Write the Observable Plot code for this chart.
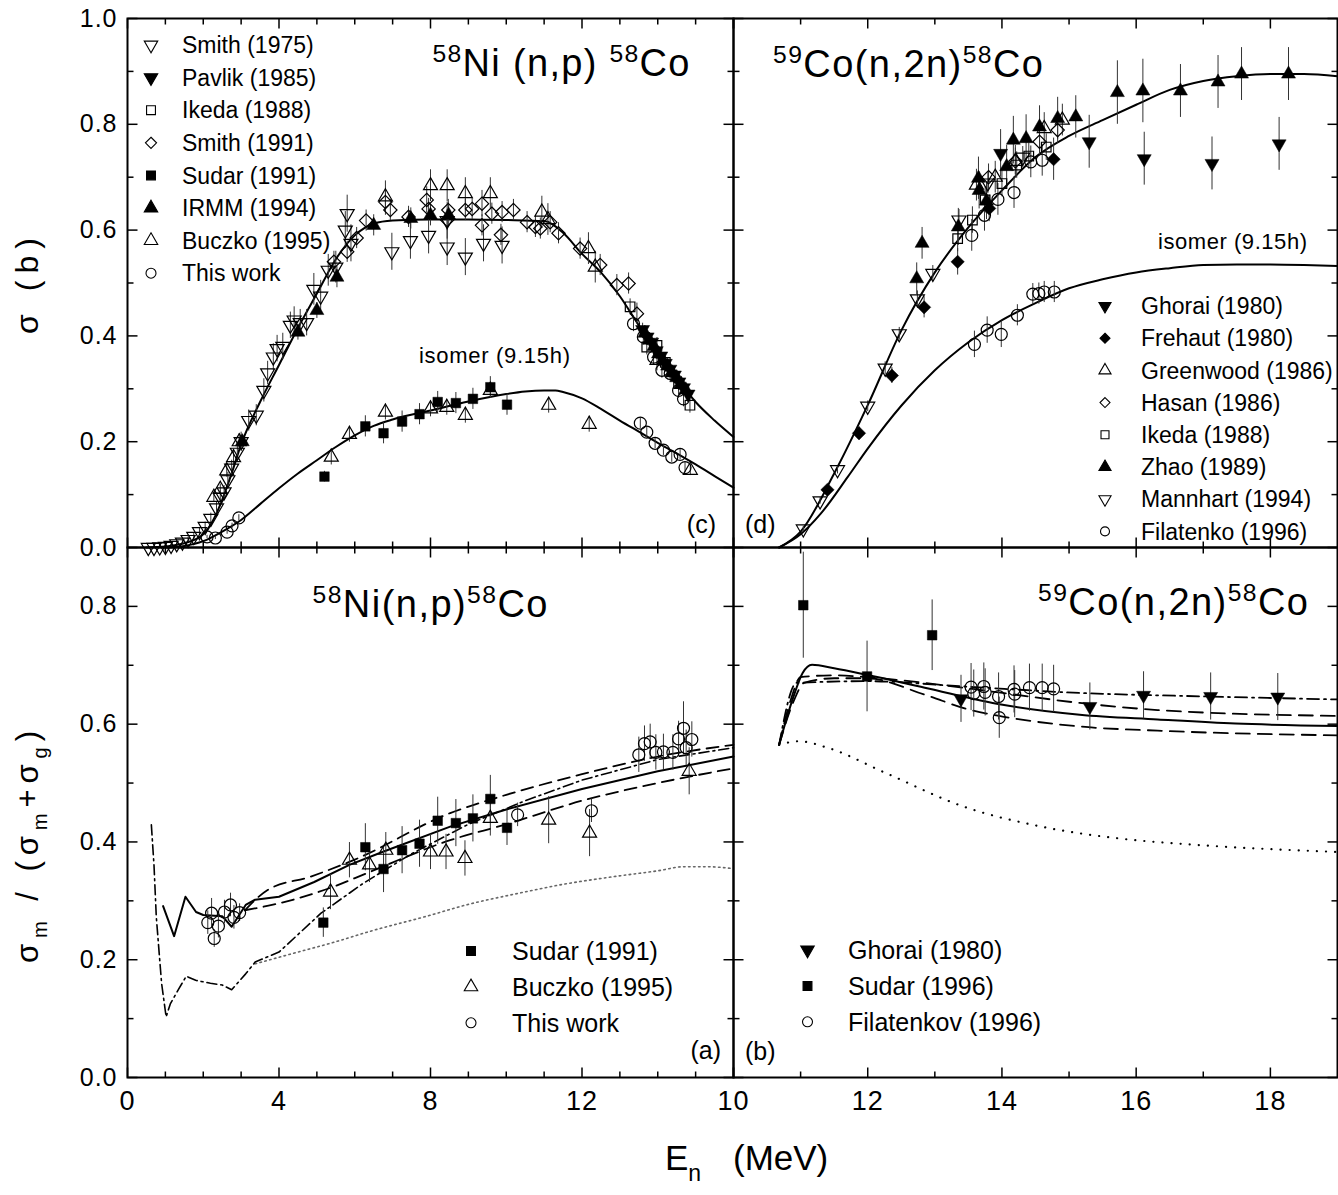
<!DOCTYPE html>
<html><head><meta charset="utf-8">
<script src="https://cdn.jsdelivr.net/npm/d3@7"></script>
<script src="https://cdn.jsdelivr.net/npm/@observablehq/plot@0.6"></script>
<style>
body{margin:0;background:#fff;}
#fig{position:relative;width:1338px;height:1195px;background:#fff;overflow:hidden;}
</style></head><body><div id="fig"></div>
<script>
// ================= DATA =================
// ---- Panel (c): 58Ni(n,p)58Co cross sections (E in MeV, sigma in b) ----
const c_totE = [0.5,1.0,1.5,2.0,2.25,2.5,2.75,3.0,3.5,4.0,4.5,5.0,5.5,6.0,6.5,7.0,8.0,9.0,10.0,11.0,11.5,12.0,12.5,13.0,13.5,14.0,14.5,15.0,15.5,16.0];
const c_totS = [0,0.002,0.008,0.025,0.05,0.09,0.14,0.195,0.275,0.345,0.415,0.48,0.545,0.59,0.612,0.618,0.62,0.62,0.619,0.617,0.595,0.555,0.52,0.475,0.42,0.37,0.32,0.275,0.24,0.209];
const c_isoE = [1.0,1.5,2.0,2.5,3.0,3.5,4.0,4.5,5.0,5.5,6.0,6.5,7.0,8.0,9.0,10.0,10.5,11.0,11.3,11.5,12.0,12.5,13.0,13.5,14.0,14.5,15.0,15.5,16.0];
const c_isoS = [0,0.003,0.012,0.03,0.052,0.082,0.112,0.14,0.165,0.19,0.212,0.23,0.242,0.259,0.276,0.29,0.295,0.297,0.297,0.294,0.282,0.262,0.24,0.219,0.198,0.178,0.157,0.135,0.113];

const c_smith75E = [0.55,0.7,0.85,1.0,1.15,1.3,1.45,1.6,1.75,1.9,2.05,2.2,2.35,2.45,2.55,2.65,2.75,2.9,3.0,3.2,3.4,3.6,3.7,3.85,3.95,4.1,4.3,4.4,4.56,4.73,4.92,5.1,5.3,5.5,5.75,5.8,5.9,6.98,7.47,7.95,8.44,8.44,8.92,9.4,9.89];
const c_smith75S = [0,0,0.001,0.002,0.004,0.007,0.010,0.015,0.021,0.030,0.040,0.055,0.075,0.095,0.105,0.128,0.150,0.180,0.200,0.240,0.250,0.297,0.330,0.360,0.376,0.380,0.420,0.430,0.425,0.425,0.488,0.475,0.524,0.530,0.600,0.631,0.575,0.559,0.580,0.590,0.568,0.618,0.549,0.575,0.571];
const c_smith75Err = [0.001,0.001,0.002,0.002,0.003,0.003,0.004,0.005,0.006,0.007,0.008,0.010,0.010,0.012,0.012,0.014,0.015,0.015,0.018,0.02,0.02,0.022,0.022,0.025,0.025,0.025,0.025,0.025,0.025,0.025,0.03,0.03,0.03,0.03,0.035,0.035,0.035,0.035,0.035,0.035,0.035,0.035,0.035,0.035,0.035];
const c_pavlikE = [13.6,13.72,13.84,13.96,14.08,14.2,14.32,14.44,14.56,14.68,14.8];
const c_pavlikS = [0.412,0.398,0.388,0.372,0.362,0.348,0.337,0.326,0.313,0.302,0.29];
const c_pavlikErr = [0.012,0.012,0.012,0.012,0.012,0.012,0.012,0.012,0.012,0.012,0.012];
const c_ikedaE = [13.27,13.71,13.98,14.2,14.55,14.85];
const c_ikedaS = [0.455,0.379,0.382,0.35,0.31,0.269];
const c_ikedaErr = [0.015,0.015,0.015,0.015,0.015,0.015];
const c_smith91E = [5.45,5.8,6.05,6.3,6.81,6.94,7.42,7.9,7.95,8.44,8.47,8.92,9.1,9.36,9.36,9.62,9.86,9.89,10.19,10.55,10.77,10.9,11.16,11.38,11.95,12.48,12.92,13.23,13.45];
const c_smith91S = [0.540,0.559,0.585,0.618,0.653,0.638,0.625,0.657,0.640,0.619,0.638,0.638,0.640,0.650,0.609,0.631,0.591,0.634,0.638,0.615,0.606,0.603,0.615,0.594,0.565,0.534,0.496,0.499,0.442];
const c_smith91Err = [0.02,0.02,0.02,0.02,0.025,0.02,0.02,0.025,0.02,0.02,0.02,0.02,0.02,0.025,0.02,0.02,0.02,0.02,0.02,0.02,0.02,0.02,0.02,0.02,0.02,0.02,0.02,0.02,0.02];
const c_sudarE = [5.2,6.28,6.76,7.25,7.71,8.19,8.67,9.12,9.58,10.02];
const c_sudarS = [0.134,0.229,0.216,0.238,0.252,0.275,0.273,0.281,0.303,0.27];
const c_sudarErr = [0.01,0.02,0.02,0.02,0.02,0.02,0.02,0.02,0.02,0.02];
const c_irmmE = [3.03,4.5,5.0,5.53,6.5,7.48,8.0,8.48,13.66,13.78,13.9,14.02,14.14,14.26,14.38,14.5,14.62,14.74];
const c_irmmS = [0.200,0.407,0.448,0.511,0.609,0.622,0.628,0.628,0.405,0.392,0.38,0.366,0.353,0.343,0.33,0.321,0.309,0.298];
const c_irmmErr = [0.01,0.015,0.015,0.02,0.02,0.02,0.02,0.02,0.01,0.01,0.01,0.01,0.01,0.01,0.01,0.01,0.01,0.01];
const c_buczkoE = [2.28,2.45,2.62,2.8,2.95,6.81,8.0,8.44,8.92,9.58,10.94,11.1,12.17,12.35,13.98,5.38,5.86,6.81,8.0,8.43,8.92,9.58,11.12,12.19,14.86];
const c_buczkoS = [0.095,0.11,0.145,0.17,0.2,0.663,0.684,0.684,0.669,0.669,0.634,0.62,0.565,0.53,0.354,0.171,0.214,0.256,0.262,0.265,0.25,0.297,0.269,0.233,0.146];
const c_buczkoErr = [0.01,0.01,0.012,0.015,0.015,0.03,0.03,0.03,0.03,0.03,0.03,0.03,0.03,0.03,0.02,0.015,0.015,0.015,0.015,0.015,0.015,0.015,0.015,0.015,0.01];
const c_thisE = [2.1,2.32,2.63,2.76,2.94,13.54,13.71,13.93,14.15,14.37,14.59,14.72,13.36,13.62,13.89,14.11,14.33,14.55,14.68];
const c_thisS = [0.02,0.018,0.029,0.041,0.056,0.235,0.218,0.197,0.184,0.171,0.176,0.151,0.423,0.398,0.36,0.335,0.329,0.297,0.281];
const c_thisErr = [0.003,0.003,0.004,0.005,0.006,0.01,0.01,0.01,0.01,0.01,0.01,0.01,0.015,0.015,0.015,0.015,0.015,0.015,0.015];

// ---- Panel (d): 59Co(n,2n)58Co ----
const d_totE = [10.68,11.0,11.5,12.0,12.5,13.0,13.5,14.0,14.5,15.0,15.5,16.0,16.5,17.0,17.5,18.0,18.5,19.0];
const d_totS = [0,0.03,0.14,0.269,0.41,0.52,0.605,0.675,0.738,0.778,0.808,0.837,0.865,0.882,0.891,0.895,0.895,0.891];
const d_isoE = [10.68,11.0,11.3,11.7,12.0,12.5,13.0,13.5,14.0,14.5,15.0,15.5,16.0,16.5,17.0,17.5,18.0,18.5,19.0];
const d_isoS = [0,0.025,0.064,0.133,0.187,0.268,0.335,0.388,0.43,0.462,0.49,0.507,0.52,0.528,0.534,0.535,0.535,0.534,0.532];
const d_ghoraiE = [13.98,15.3,16.12,17.13,18.13];
const d_ghoraiS = [0.745,0.767,0.735,0.726,0.763];
const d_ghoraiErr = [0.045,0.05,0.05,0.05,0.05];
const d_frehautE = [11.4,11.87,12.36,12.84,13.34,13.81,14.77];
const d_frehautS = [0.109,0.216,0.325,0.454,0.54,0.641,0.734];
const d_frehautErr = [0.008,0.012,0.015,0.02,0.025,0.025,0.04];
const d_greenE = [13.62,13.9,14.2,14.63,14.9];
const d_greenS = [0.685,0.7,0.73,0.792,0.808];
const d_greenErr = [0.03,0.03,0.03,0.03,0.03];
const d_hasanE = [13.8,14.2,14.56,14.83];
const d_hasanS = [0.7,0.73,0.767,0.789];
const d_hasanErr = [0.025,0.025,0.025,0.025];
const d_ikedaE = [13.34,13.56,13.75,14.0,14.22,14.4,14.66];
const d_ikedaS = [0.584,0.619,0.657,0.688,0.723,0.74,0.757];
const d_ikedaErr = [0.025,0.025,0.025,0.025,0.025,0.025,0.025];
const d_zhaoE = [12.73,12.81,13.35,13.65,13.66,13.77,14.07,14.17,14.36,14.56,14.83,15.1,15.72,16.1,16.66,17.22,17.57,18.27];
const d_zhaoS = [0.508,0.575,0.606,0.698,0.675,0.655,0.72,0.77,0.773,0.795,0.811,0.814,0.86,0.863,0.863,0.88,0.895,0.895];
const d_zhaoErr = [0.03,0.03,0.035,0.04,0.035,0.035,0.04,0.045,0.045,0.04,0.04,0.04,0.06,0.06,0.05,0.05,0.05,0.05];
const d_mannE = [11.04,11.29,11.55,12.0,12.26,12.47,12.74,12.97,13.36,13.79,14.31];
const d_mannS = [0.035,0.088,0.147,0.267,0.339,0.404,0.47,0.518,0.619,0.689,0.738];
const d_mannErr = [0.005,0.006,0.008,0.01,0.012,0.012,0.015,0.015,0.02,0.02,0.02];
const d_filatE = [13.55,13.74,13.94,14.18,14.43,14.6,13.59,13.78,13.99,14.23,14.46,14.55,14.63,14.78];
const d_filatS = [0.59,0.628,0.658,0.671,0.729,0.732,0.384,0.411,0.403,0.439,0.479,0.48,0.483,0.483];
const d_filatErr = [0.03,0.03,0.03,0.03,0.03,0.03,0.025,0.025,0.025,0.02,0.02,0.02,0.02,0.02];

// ---- Panel (a): isomeric ratio 58Ni(n,p)58Co ----
const a_solidE = [0.94,1.23,1.53,1.81,2.0,2.5,2.75,3.12,3.37,4.0,4.93,5.86,6.73,8.52,10.0,12.0,14.0,16.0];
const a_solidR = [0.291,0.240,0.307,0.281,0.276,0.274,0.256,0.293,0.302,0.307,0.332,0.361,0.383,0.426,0.455,0.49,0.52,0.545];
const a_dashHiE = [3.1,3.69,4.83,6.0,8.52,10.0,12.0,14.0,16.0];
const a_dashHiR = [0.284,0.318,0.341,0.37,0.449,0.48,0.515,0.545,0.565];
const a_dashLoE = [3.1,3.95,5.44,6.32,8.52,10.0,12.0,14.0,16.0];
const a_dashLoR = [0.284,0.295,0.324,0.347,0.403,0.43,0.47,0.5,0.525];
const a_dashDotE = [0.63,0.7,0.76,0.9,1.02,1.13,1.35,1.55,1.8,2.19,2.5,2.75,3.12,3.37,4.0,5.11,6.23,7.5,9.0,10.5,12.0,14.0,16.0];
const a_dashDotR = [0.429,0.36,0.273,0.16,0.103,0.125,0.15,0.172,0.165,0.16,0.157,0.149,0.176,0.196,0.213,0.279,0.33,0.38,0.43,0.47,0.505,0.54,0.56];
const a_dotE = [3.37,4.5,5.36,6.5,7.85,9.0,10.34,11.5,12.83,14.0,14.7,15.3,15.94];
const a_dotR = [0.193,0.213,0.228,0.25,0.273,0.294,0.313,0.328,0.341,0.351,0.358,0.358,0.355];
const a_sudarE = [5.17,6.28,6.76,7.25,7.71,8.19,8.67,9.12,9.58,10.02];
const a_sudarR = [0.263,0.391,0.354,0.386,0.397,0.436,0.432,0.44,0.473,0.424];
const a_sudarErr = [0.025,0.04,0.04,0.04,0.04,0.04,0.04,0.04,0.04,0.03];
const a_buczkoE = [5.36,5.86,6.39,6.82,8.0,8.41,8.91,9.58,11.12,12.2,14.83];
const a_buczkoR = [0.315,0.369,0.361,0.386,0.383,0.383,0.372,0.44,0.437,0.415,0.52];
const a_buczkoErr = [0.03,0.03,0.03,0.03,0.03,0.03,0.03,0.03,0.04,0.04,0.04];
const a_thisE = [2.12,2.22,2.29,2.4,2.56,2.72,2.81,2.96,10.3,12.25,13.5,13.65,13.8,13.95,14.15,14.4,14.55,14.68,14.75,14.9];
const a_thisR = [0.263,0.279,0.236,0.257,0.281,0.293,0.272,0.28,0.446,0.453,0.548,0.567,0.57,0.552,0.553,0.552,0.575,0.593,0.56,0.574];
const a_thisErr = [0.02,0.025,0.015,0.02,0.02,0.02,0.02,0.015,0.02,0.02,0.03,0.03,0.03,0.03,0.03,0.03,0.03,0.045,0.03,0.03];

// ---- Panel (b): isomeric ratio 59Co(n,2n)58Co ----
const b_solidE = [10.68,10.88,11.03,11.17,11.5,11.98,12.85,14.01,15.16,16.32,17.48,19.0];
const b_solidR = [0.565,0.642,0.687,0.701,0.695,0.684,0.662,0.633,0.616,0.608,0.601,0.597];
const b_dashHiE = [10.68,10.85,11.0,11.5,11.98,12.85,14.01,15.16,16.32,19.0];
const b_dashHiR = [0.565,0.64,0.68,0.683,0.68,0.67,0.653,0.636,0.624,0.614];
const b_dashLoE = [10.68,10.9,11.05,11.5,11.98,12.85,13.5,14.01,15.16,16.32,19.0];
const b_dashLoR = [0.565,0.64,0.67,0.678,0.678,0.65,0.625,0.613,0.596,0.589,0.581];
const b_dashDotE = [10.68,10.94,11.98,13.43,15.16,17.06,19.0];
const b_dashDotR = [0.565,0.67,0.673,0.664,0.653,0.647,0.642];
const b_dotE = [10.68,10.97,11.4,12.27,13.43,14.59,15.74,16.9,19.0];
const b_dotR = [0.565,0.571,0.56,0.517,0.46,0.426,0.406,0.395,0.383];
const b_ghoraiE = [13.39,15.31,16.11,17.11,18.11];
const b_ghoraiR = [0.643,0.63,0.649,0.647,0.646];
const b_ghoraiErr = [0.04,0.04,0.04,0.04,0.04];
const b_sudarE = [11.04,11.99,12.96];
const b_sudarR = [0.802,0.681,0.751];
const b_sudarErr = [0.09,0.06,0.06];
const b_filatE = [13.54,13.58,13.73,13.75,13.95,13.96,14.18,14.19,14.41,14.6,14.77];
const b_filatR = [0.663,0.652,0.664,0.654,0.647,0.611,0.659,0.651,0.662,0.662,0.66];
const b_filatErr = [0.04,0.04,0.04,0.04,0.04,0.035,0.04,0.04,0.04,0.04,0.04];

// ---- tick values ----
const xTicksLeftMajor = [0,4,8,12,16], xTicksLeftMinor = [1,2,3,5,6,7,9,10,11,13,14,15];
const xLabelsLeft = [0,4,8,12];
const xTicksRightMajor = [10,12,14,16,18], xTicksRightMinor = [11,13,15,17];
const xLabelsRight = [10,12,14,16,18];
const yTicksTopMajor = [0,0.2,0.4,0.6,0.8,1.0], yTicksTopMinor = [0.1,0.3,0.5,0.7,0.9];
const yTicksBotMajor = [0,0.2,0.4,0.6,0.8], yTicksBotMinor = [0.1,0.3,0.5,0.7];

// ================= RENDER =================
const FONT = "'Liberation Sans', Arial, Helvetica, sans-serif";
const fig = document.getElementById("fig");
const downTri = {draw(ctx, size){const y = Math.sqrt(size/(3*Math.sqrt(3))); const s3 = Math.sqrt(3);
  ctx.moveTo(0, 2*y); ctx.lineTo(-s3*y, -y); ctx.lineTo(s3*y, -y); ctx.closePath();}};
const SYM = {circle: d3.symbolCircle, square: d3.symbolSquare, diamond: d3.symbolDiamond2, up: d3.symbolTriangle, down: downTri};
const R = {circle: 6, square: 5.4, diamond: 6, up: 5.2, down: 5.2};

const zip = (E, S, Err) => E.map((e, i) => ({E: e, s: S[i], err: Err ? (Err[i] ?? 0) : 0}));

function series(E, S, Err, sym, filled){
  const data = zip(E, S, Err);
  return {
    err: Plot.ruleX(data, {x: "E", y1: d => d.s - d.err, y2: d => d.s + d.err, stroke: "#333", strokeWidth: 1}),
    dot: Plot.dot(data, {x: "E", y: "s", symbol: SYM[sym], r: R[sym], fill: filled ? "black" : "none", stroke: "black", strokeWidth: filled ? 0.5 : 1.2})
  };
}
function line(E, S, style){
  const base = {x: "E", y: "s", stroke: "black", strokeWidth: 2, curve: style.curve || "monotone-x"};
  return Plot.line(zip(E, S), {...base, ...style});
}
const tickSym = (dx, dy) => ({draw(ctx){ctx.moveTo(0,0); ctx.lineTo(dx,dy);}});
function tickMarks(xMaj, xMin, yMaj, yMin){
  const o = {stroke: "black", strokeWidth: 1.5, fill: "none"};
  const m = [];
  for (const [arr, len] of [[xMaj, 10], [xMin, 6]]) {
    m.push(Plot.dot(arr, {x: d => d, frameAnchor: "bottom", symbol: tickSym(0, -len), ...o}));
    m.push(Plot.dot(arr, {x: d => d, frameAnchor: "top", symbol: tickSym(0, len), ...o}));
  }
  for (const [arr, len] of [[yMaj, 10], [yMin, 6]]) {
    m.push(Plot.dot(arr, {y: d => d, frameAnchor: "left", symbol: tickSym(len, 0), ...o}));
    m.push(Plot.dot(arr, {y: d => d, frameAnchor: "right", symbol: tickSym(-len, 0), ...o}));
  }
  return m;
}
function panel(opt){
  const svg = Plot.plot({
    width: opt.width, height: opt.height,
    marginLeft: opt.mL, marginRight: opt.mR, marginTop: opt.mT, marginBottom: opt.mB,
    x: {domain: opt.xDomain, label: null, axis: opt.xAxis ? undefined : null},
    y: {domain: opt.yDomain, label: null, axis: opt.yAxis ? undefined : null},
    style: {background: "transparent", overflow: "visible", fontFamily: FONT, color: "black", letterSpacing: "1px"},
    marks: opt.marks
  });
  svg.style.position = "absolute"; svg.style.left = opt.left + "px"; svg.style.top = opt.top + "px";
  svg.style.maxWidth = "none";
  fig.appendChild(svg);
}
const L = (list, which) => list.flatMap(s => s[which]);

// ---- Panel (c) ----
{
  const S = [
    series(c_smith75E, c_smith75S, c_smith75Err, "down", false),
    series(c_smith91E, c_smith91S, c_smith91Err, "diamond", false),
    series(c_buczkoE, c_buczkoS, c_buczkoErr, "up", false),
    series(c_ikedaE, c_ikedaS, c_ikedaErr, "square", false),
    series(c_thisE, c_thisS, c_thisErr, "circle", false),
    series(c_sudarE, c_sudarS, c_sudarErr, "square", true),
    series(c_pavlikE, c_pavlikS, c_pavlikErr, "down", true),
    series(c_irmmE, c_irmmS, c_irmmErr, "up", true)
  ];
  panel({left: 0, top: 0, width: 741, height: 555, mL: 127, mR: 8, mT: 18, mB: 8,
    xDomain: [0, 16], yDomain: [0, 1], xAxis: false, yAxis: true,
    marks: [
      line(c_totE, c_totS, {}), line(c_isoE, c_isoS, {}),
      ...L(S, "err"), ...L(S, "dot"),
      ...tickMarks(xTicksLeftMajor, xTicksLeftMinor, yTicksTopMajor, yTicksTopMinor),
      Plot.axisY({ticks: yTicksTopMajor, tickSize: 0, tickPadding: 10, fontSize: 25, tickFormat: d => d.toFixed(1)}),
      Plot.frame({strokeWidth: 2})
    ]});
}
// ---- Panel (d) ----
{
  const S = [
    series(d_mannE, d_mannS, d_mannErr, "down", false),
    series(d_hasanE, d_hasanS, d_hasanErr, "diamond", false),
    series(d_greenE, d_greenS, d_greenErr, "up", false),
    series(d_ikedaE, d_ikedaS, d_ikedaErr, "square", false),
    series(d_filatE, d_filatS, d_filatErr, "circle", false),
    series(d_frehautE, d_frehautS, d_frehautErr, "diamond", true),
    series(d_ghoraiE, d_ghoraiS, d_ghoraiErr, "down", true),
    series(d_zhaoE, d_zhaoS, d_zhaoErr, "up", true)
  ];
  panel({left: 725, top: 0, width: 613, height: 555, mL: 8, mR: 1, mT: 18, mB: 8,
    xDomain: [10, 19], yDomain: [0, 1], xAxis: false, yAxis: false,
    marks: [
      line(d_totE, d_totS, {}), line(d_isoE, d_isoS, {}),
      ...L(S, "err"), ...L(S, "dot"),
      ...tickMarks(xTicksRightMajor, xTicksRightMinor, yTicksTopMajor, yTicksTopMinor),
      Plot.frame({strokeWidth: 2})
    ]});
}
// ---- Panel (a) ----
{
  const S = [
    series(a_buczkoE, a_buczkoR, a_buczkoErr, "up", false),
    series(a_thisE, a_thisR, a_thisErr, "circle", false),
    series(a_sudarE, a_sudarR, a_sudarErr, "square", true)
  ];
  panel({left: 0, top: 539, width: 741, height: 598, mL: 127, mR: 8, mT: 8, mB: 60,
    xDomain: [0, 16], yDomain: [0, 0.9], xAxis: true, yAxis: true,
    marks: [
      line(a_dotE, a_dotR, {stroke: "#666", strokeWidth: 1.6, strokeDasharray: "1.5,3.5"}),
      line(a_dashDotE, a_dashDotR, {strokeWidth: 1.6, strokeDasharray: "10,4,2,4", curve: "linear"}),
      line(a_dashHiE, a_dashHiR, {strokeWidth: 1.8, strokeDasharray: "12,7"}),
      line(a_dashLoE, a_dashLoR, {strokeWidth: 1.8, strokeDasharray: "12,7"}),
      line(a_solidE, a_solidR, {strokeWidth: 2, curve: "linear"}),
      ...L(S, "err"), ...L(S, "dot"),
      ...tickMarks(xTicksLeftMajor, xTicksLeftMinor, yTicksBotMajor, yTicksBotMinor),
      Plot.axisY({ticks: yTicksBotMajor, tickSize: 0, tickPadding: 10, fontSize: 25, tickFormat: d => d.toFixed(1)}),
      Plot.axisX({ticks: xLabelsLeft, tickSize: 0, tickPadding: 13, fontSize: 27, tickFormat: d => String(d)}),
      Plot.frame({strokeWidth: 2})
    ]});
}
// ---- Panel (b) ----
{
  const S = [
    series(b_filatE, b_filatR, b_filatErr, "circle", false),
    series(b_sudarE, b_sudarR, b_sudarErr, "square", true),
    series(b_ghoraiE, b_ghoraiR, b_ghoraiErr, "down", true)
  ];
  panel({left: 725, top: 539, width: 613, height: 598, mL: 8, mR: 1, mT: 8, mB: 60,
    xDomain: [10, 19], yDomain: [0, 0.9], xAxis: true, yAxis: false,
    marks: [
      line(b_dotE, b_dotR, {strokeWidth: 2.2, strokeDasharray: "0.1,9", strokeLinecap: "round"}),
      line(b_dashDotE, b_dashDotR, {strokeWidth: 1.8, strokeDasharray: "12,5,2,5"}),
      line(b_dashHiE, b_dashHiR, {strokeWidth: 1.8, strokeDasharray: "14,8"}),
      line(b_dashLoE, b_dashLoR, {strokeWidth: 1.8, strokeDasharray: "14,8"}),
      line(b_solidE, b_solidR, {strokeWidth: 2}),
      ...L(S, "err"), ...L(S, "dot"),
      ...tickMarks(xTicksRightMajor, xTicksRightMinor, yTicksBotMajor, yTicksBotMinor),
      Plot.axisX({ticks: xLabelsRight, tickSize: 0, tickPadding: 13, fontSize: 27, tickFormat: d => String(d)}),
      Plot.frame({strokeWidth: 2})
    ]});
}

// ================= TEXT OVERLAY =================
const ov = d3.select(fig).append("svg").attr("width", 1338).attr("height", 1195)
  .style("position", "absolute").style("left", "0px").style("top", "0px").style("overflow", "visible")
  .attr("font-family", FONT).attr("fill", "black");

function rich(x, y, parts, size, anchor = "start", rot = false, len = null){
  const t = ov.append("text").attr("x", x).attr("y", y).attr("font-size", size).attr("text-anchor", anchor);
  if (rot) t.attr("transform", `rotate(-90,${x},${y})`);
  if (len) t.attr("textLength", len).attr("lengthAdjust", "spacing");
  let off = 0;
  for (const [s, k] of parts){
    const target = k === "sup" ? -0.36*size : k === "sub" ? 0.3*size : 0;
    const ts = t.append("tspan").attr("dy", target - off).text(s);
    if (k !== "n") ts.attr("font-size", 0.65*size);
    off = target;
  }
  return t;
}
function legend(items, sx, tx, y0, dy, size, r){
  items.forEach(([label, sym, filled], i) => {
    const y = y0 + i*dy;
    ov.append("path").attr("transform", `translate(${sx},${y})`)
      .attr("d", d3.symbol(SYM[sym], Math.PI*r*r)())
      .attr("fill", filled ? "black" : "none").attr("stroke", "black").attr("stroke-width", 1.1);
    ov.append("text").attr("x", tx).attr("y", y + 0.36*size).attr("font-size", size).text(label);
  });
}
// titles
rich(561, 76, [["58","sup"],["Ni (n,p) ","n"],["58","sup"],["Co","n"]], 38, "middle", false, 257);
rich(908, 77, [["59","sup"],["Co(n,2n)","n"],["58","sup"],["Co","n"]], 38, "middle", false, 270);
rich(430, 617, [["58","sup"],["Ni(n,p)","n"],["58","sup"],["Co","n"]], 38, "middle", false, 235);
rich(1173, 615, [["59","sup"],["Co(n,2n)","n"],["58","sup"],["Co","n"]], 38, "middle", false, 270);
// isomer labels
rich(419, 363, [["isomer (9.15h)","n"]], 22, "start", false, 151);
rich(1158, 249, [["isomer (9.15h)","n"]], 22, "start", false, 149);
// panel letters
rich(716, 533, [["(c)","n"]], 25, "end");
rich(745, 533, [["(d)","n"]], 25, "start");
rich(721, 1059, [["(a)","n"]], 25, "end");
rich(745, 1060, [["(b)","n"]], 25, "start");
// axis titles
rich(38, 286, [["σ (b)","n"]], 32, "middle", true, 96);
rich(38, 847, [["σ","n"],["m","sub"],[" / (","n"],["σ","n"],["m","sub"],["+","n"],["σ","n"],["g","sub"],[")","n"]], 31, "middle", true, 232);
{
  const t = ov.append("text").attr("x", 665).attr("y", 1170).attr("font-size", 35);
  t.append("tspan").text("E");
  t.append("tspan").attr("dy", 11).attr("font-size", 23).text("n");
  t.append("tspan").attr("x", 733).attr("dy", -11).text("(MeV)");
}
// legends
legend([["Smith (1975)","down",false],["Pavlik (1985)","down",true],["Ikeda (1988)","square",false],["Smith (1991)","diamond",false],
        ["Sudar (1991)","square",true],["IRMM (1994)","up",true],["Buczko (1995)","up",false],["This work","circle",false]],
       151, 182, 45, 32.6, 23, 5);
legend([["Ghorai (1980)","down",true],["Frehaut (1980)","diamond",true],["Greenwood (1986)","up",false],["Hasan (1986)","diamond",false],
        ["Ikeda (1988)","square",false],["Zhao (1989)","up",true],["Mannhart (1994)","down",false],["Filatenko (1996)","circle",false]],
       1105, 1141, 306, 32.2, 23, 4.5);
legend([["Sudar (1991)","square",true],["Buczko (1995)","up",false],["This work","circle",false]], 471, 512, 951, 35.9, 25, 5);
legend([["Ghorai (1980)","down",true],["Sudar (1996)","square",true],["Filatenkov (1996)","circle",false]], 807.5, 848, 950, 35.9, 25, 5);
</script></body></html>
